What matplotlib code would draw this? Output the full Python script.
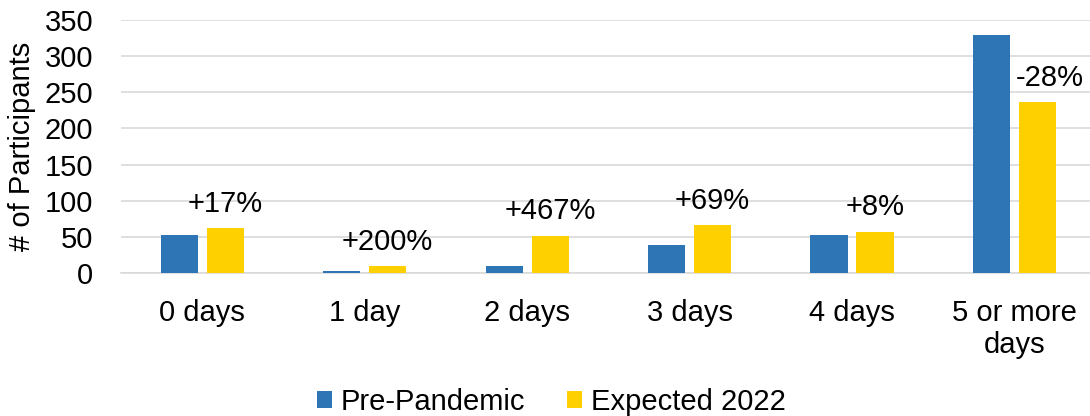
import matplotlib
matplotlib.use("Agg")
import matplotlib.pyplot as plt
import numpy as np

categories = ["0 days", "1 day", "2 days", "3 days", "4 days", "5 or more\ndays"]
pre_pandemic = [53, 3, 9, 39, 53, 329]
expected_2022 = [62, 9, 51, 66, 57, 236]
change_labels = ["+17%", "+200%", "+467%", "+69%", "+8%", "-28%"]
y_ticks = [0, 50, 100, 150, 200, 250, 300, 350]

plt.rcParams["font.family"] = ["Liberation Sans", "DejaVu Sans"]
FS = 21

fig = plt.figure(figsize=(10.9, 4.16), dpi=100)
ax = fig.add_axes([121 / 1090, 143 / 416, (1090 - 121) / 1090, 253 / 416])

x = np.arange(len(categories))
width = 0.228
offset = 0.1416
blue = "#2E75B6"
yellow = "#FFD000"

ax.bar(x - offset, pre_pandemic, width, color=blue, label="Pre-Pandemic", zorder=3)
bars_y = ax.bar(x + offset, expected_2022, width, color=yellow, label="Expected 2022", zorder=3)

for i, (rect, txt) in enumerate(zip(bars_y, change_labels)):
    dx = 9 if i == len(change_labels) - 1 else 0
    ax.annotate(txt, (rect.get_x() + rect.get_width() / 2, rect.get_height()),
                xytext=(dx, 12), textcoords="offset points",
                ha="center", va="baseline", fontsize=FS, color="#000000")

ax.set_ylim(0, 350)
ax.set_xlim(-0.5, 5.465)
ax.set_yticks(y_ticks)
ax.set_xticks(x)
ax.set_xticklabels(categories, fontsize=FS, linespacing=1.2)
ax.tick_params(axis="y", labelsize=FS, length=0, pad=20)
ax.tick_params(axis="x", length=0, pad=18.5)
ax.yaxis.grid(True, color="#D9D9D9", linewidth=1.2, zorder=0)
ax.set_axisbelow(True)
for side in ["top", "right", "left"]:
    ax.spines[side].set_visible(False)
ax.spines["bottom"].set_color("#D9D9D9")
ax.spines["bottom"].set_linewidth(1.2)
ax.set_ylabel("# of Participants", fontsize=FS, labelpad=6)

fig.legend(loc="center", bbox_to_anchor=(0.506, 14 / 416), ncol=2, frameon=False,
           fontsize=FS, handlelength=0.5, handleheight=0.5, handletextpad=0.3,
           columnspacing=1.45)

fig.savefig("out.png", dpi=100)
